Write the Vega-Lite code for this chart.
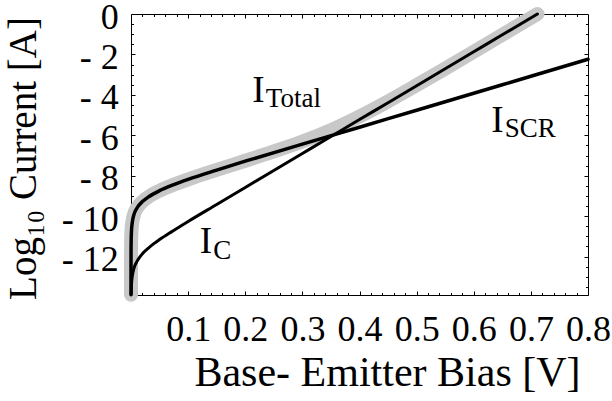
{
  "$schema": "https://vega.github.io/schema/vega-lite/v6.json",
  "width": 457,
  "height": 281,
  "autosize": {"type": "none"},
  "padding": {"left": 131, "top": 14, "right": 24, "bottom": 106},
  "background": "white",
  "config": {
    "view": {"stroke": "black", "strokeWidth": 1},
    "axis": {"domain": false, "grid": false, "tickColor": "black", "tickWidth": 1, "labelFont": "Liberation Serif", "titleFont": "Liberation Serif", "labelColor": "black", "titleColor": "black", "titleFontWeight": "normal"},
    "text": {"font": "Liberation Serif", "color": "black"}
  },
  "datasets": {
    "curves": [
      {"series": "Total", "V": 0.0000006, "logI": -13.89},
      {"series": "Total", "V": 0.000003, "logI": -13.19},
      {"series": "Total", "V": 0.00002, "logI": -12.36},
      {"series": "Total", "V": 0.0001, "logI": -11.66},
      {"series": "Total", "V": 0.0003, "logI": -11.19},
      {"series": "Total", "V": 0.001, "logI": -10.66},
      {"series": "Total", "V": 0.002, "logI": -10.36},
      {"series": "Total", "V": 0.005, "logI": -9.94},
      {"series": "Total", "V": 0.01, "logI": -9.62},
      {"series": "Total", "V": 0.02, "logI": -9.28},
      {"series": "Total", "V": 0.03, "logI": -9.06},
      {"series": "Total", "V": 0.05, "logI": -8.74},
      {"series": "Total", "V": 0.075, "logI": -8.44},
      {"series": "Total", "V": 0.1, "logI": -8.18},
      {"series": "Total", "V": 0.15, "logI": -7.71},
      {"series": "Total", "V": 0.2, "logI": -7.26},
      {"series": "Total", "V": 0.25, "logI": -6.8},
      {"series": "Total", "V": 0.3, "logI": -6.31},
      {"series": "Total", "V": 0.35, "logI": -5.74},
      {"series": "Total", "V": 0.4, "logI": -5.07},
      {"series": "Total", "V": 0.45, "logI": -4.32},
      {"series": "Total", "V": 0.5, "logI": -3.52},
      {"series": "Total", "V": 0.55, "logI": -2.7},
      {"series": "Total", "V": 0.6, "logI": -1.87},
      {"series": "Total", "V": 0.65, "logI": -1.03},
      {"series": "Total", "V": 0.7115, "logI": 0},
      {"series": "IC", "V": 0.0003, "logI": -13.86},
      {"series": "IC", "V": 0.0005, "logI": -13.64},
      {"series": "IC", "V": 0.001, "logI": -13.33},
      {"series": "IC", "V": 0.002, "logI": -13.03},
      {"series": "IC", "V": 0.003, "logI": -12.84},
      {"series": "IC", "V": 0.005, "logI": -12.6},
      {"series": "IC", "V": 0.0075, "logI": -12.4},
      {"series": "IC", "V": 0.01, "logI": -12.26},
      {"series": "IC", "V": 0.015, "logI": -12.04},
      {"series": "IC", "V": 0.02, "logI": -11.86},
      {"series": "IC", "V": 0.03, "logI": -11.59},
      {"series": "IC", "V": 0.04, "logI": -11.36},
      {"series": "IC", "V": 0.05, "logI": -11.16},
      {"series": "IC", "V": 0.07, "logI": -10.79},
      {"series": "IC", "V": 0.1, "logI": -10.26},
      {"series": "IC", "V": 0.15, "logI": -9.42},
      {"series": "IC", "V": 0.2, "logI": -8.58},
      {"series": "IC", "V": 0.25, "logI": -7.74},
      {"series": "IC", "V": 0.3, "logI": -6.9},
      {"series": "IC", "V": 0.35, "logI": -6.06},
      {"series": "IC", "V": 0.4, "logI": -5.22},
      {"series": "IC", "V": 0.45, "logI": -4.39},
      {"series": "IC", "V": 0.5, "logI": -3.55},
      {"series": "IC", "V": 0.55, "logI": -2.71},
      {"series": "IC", "V": 0.6, "logI": -1.87},
      {"series": "IC", "V": 0.65, "logI": -1.03},
      {"series": "IC", "V": 0.7115, "logI": 0},
      {"series": "ISCR", "V": 0.0000006, "logI": -13.89},
      {"series": "ISCR", "V": 0.000003, "logI": -13.19},
      {"series": "ISCR", "V": 0.00002, "logI": -12.36},
      {"series": "ISCR", "V": 0.0001, "logI": -11.66},
      {"series": "ISCR", "V": 0.0003, "logI": -11.19},
      {"series": "ISCR", "V": 0.001, "logI": -10.66},
      {"series": "ISCR", "V": 0.002, "logI": -10.36},
      {"series": "ISCR", "V": 0.005, "logI": -9.94},
      {"series": "ISCR", "V": 0.01, "logI": -9.62},
      {"series": "ISCR", "V": 0.02, "logI": -9.28},
      {"series": "ISCR", "V": 0.03, "logI": -9.06},
      {"series": "ISCR", "V": 0.05, "logI": -8.74},
      {"series": "ISCR", "V": 0.075, "logI": -8.44},
      {"series": "ISCR", "V": 0.1, "logI": -8.18},
      {"series": "ISCR", "V": 0.15, "logI": -7.72},
      {"series": "ISCR", "V": 0.2, "logI": -7.28},
      {"series": "ISCR", "V": 0.3, "logI": -6.44},
      {"series": "ISCR", "V": 0.4, "logI": -5.6},
      {"series": "ISCR", "V": 0.5, "logI": -4.76},
      {"series": "ISCR", "V": 0.6, "logI": -3.92},
      {"series": "ISCR", "V": 0.7, "logI": -3.08},
      {"series": "ISCR", "V": 0.8, "logI": -2.24}
    ],
    "labels": [
      {"sub": "Total", "V": 0.2124, "logI": -4.34},
      {"sub": "SCR", "V": 0.6307, "logI": -5.82},
      {"sub": "C", "V": 0.1204, "logI": -11.84}
    ]
  },
  "layer": [
    {
      "data": {"name": "curves"},
      "transform": [{"filter": "datum.series == 'Total'"}],
      "mark": {"type": "line", "color": "#c8c8c8", "strokeWidth": 14, "strokeCap": "round", "strokeJoin": "round", "interpolate": "monotone", "clip": false},
      "encoding": {
        "x": {"field": "V", "type": "quantitative", "scale": {"domain": [0, 0.8], "nice": false, "zero": false},
          "axis": {"orient": "bottom", "values": [0.1, 0.2, 0.3, 0.4, 0.5, 0.6, 0.7, 0.8], "tickSize": -4, "labelFontSize": 36, "labelPadding": 49, "labelBaseline": "alphabetic", "labelAlign": "center", "labelOverlap": false, "labelFlush": false, "format": ".1f",
            "title": "Base- Emitter Bias [V]", "titleFontSize": 42, "titleX": 256, "titleY": 90, "titleAlign": "center", "titleBaseline": "alphabetic"}},
        "y": {"field": "logI", "type": "quantitative", "scale": {"domain": [-13.9, 0], "nice": false, "zero": false},
          "axis": {"orient": "left", "values": [0, -2, -4, -6, -8, -10, -12], "tickSize": -4, "labelFontSize": 36, "labelPadding": 16.7, "labelAlign": "right", "labelBaseline": "alphabetic", "labelOffset": 14, "labelOverlap": false, "labelFlush": false,
            "labelExpr": "datum.value == 0 ? '0' : '- ' + format(-datum.value, 'd')",
            "title": "Log₁₀ Current  [A]", "titleFontSize": 39, "titleAngle": 270, "titleX": -96, "titleY": 144, "titleAlign": "center", "titleBaseline": "alphabetic"}}
      }
    },
    {
      "data": {"name": "curves"},
      "transform": [{"filter": "datum.series == 'IC'"}],
      "mark": {"type": "line", "color": "black", "strokeWidth": 3, "strokeCap": "round", "strokeJoin": "round", "interpolate": "monotone", "clip": false},
      "encoding": {
        "x": {"field": "V", "type": "quantitative", "scale": {"domain": [0, 0.8], "nice": false, "zero": false},
          "axis": {"orient": "bottom", "values": [0.02, 0.04, 0.06, 0.08, 0.12, 0.14, 0.16, 0.18, 0.22, 0.24, 0.26, 0.28, 0.32, 0.34, 0.36, 0.38, 0.42, 0.44, 0.46, 0.48, 0.52, 0.54, 0.56, 0.58, 0.62, 0.64, 0.66, 0.68, 0.72, 0.74, 0.76, 0.78], "tickSize": -2.5, "labels": false, "title": null}},
        "y": {"field": "logI", "type": "quantitative", "scale": {"domain": [-13.9, 0], "nice": false, "zero": false},
          "axis": {"orient": "left", "values": [-0.5, -1, -1.5, -2.5, -3, -3.5, -4.5, -5, -5.5, -6.5, -7, -7.5, -8.5, -9, -9.5, -10.5, -11, -11.5, -12.5, -13, -13.5], "tickSize": -2.5, "labels": false, "title": null}}
      }
    },
    {
      "data": {"name": "curves"},
      "transform": [{"filter": "datum.series == 'ISCR'"}],
      "mark": {"type": "line", "color": "black", "strokeWidth": 3.5, "strokeCap": "round", "strokeJoin": "round", "interpolate": "monotone", "clip": false},
      "encoding": {
        "x": {"field": "V", "type": "quantitative", "scale": {"domain": [0, 0.8], "nice": false, "zero": false},
          "axis": {"orient": "top", "values": [0.1, 0.2, 0.3, 0.4, 0.5, 0.6, 0.7], "tickSize": -4, "labels": false, "title": null}},
        "y": {"field": "logI", "type": "quantitative", "scale": {"domain": [-13.9, 0], "nice": false, "zero": false},
          "axis": {"orient": "right", "values": [-2, -4, -6, -8, -10, -12], "tickSize": -4, "labels": false, "title": null}}
      }
    },
    {
      "data": {"name": "labels"},
      "mark": {"type": "text", "text": "I", "fontSize": 37, "align": "left", "baseline": "alphabetic", "font": "Liberation Serif", "color": "black"},
      "encoding": {
        "x": {"field": "V", "type": "quantitative", "scale": {"domain": [0, 0.8], "nice": false, "zero": false},
          "axis": {"orient": "top", "values": [0.02, 0.04, 0.06, 0.08, 0.12, 0.14, 0.16, 0.18, 0.22, 0.24, 0.26, 0.28, 0.32, 0.34, 0.36, 0.38, 0.42, 0.44, 0.46, 0.48, 0.52, 0.54, 0.56, 0.58, 0.62, 0.64, 0.66, 0.68, 0.72, 0.74, 0.76, 0.78], "tickSize": -2.5, "labels": false, "title": null}},
        "y": {"field": "logI", "type": "quantitative", "scale": {"domain": [-13.9, 0], "nice": false, "zero": false},
          "axis": {"orient": "right", "values": [-0.5, -1, -1.5, -2.5, -3, -3.5, -4.5, -5, -5.5, -6.5, -7, -7.5, -8.5, -9, -9.5, -10.5, -11, -11.5, -12.5, -13, -13.5], "tickSize": -2.5, "labels": false, "title": null}}
      }
    },
    {
      "data": {"name": "labels"},
      "mark": {"type": "text", "fontSize": 27, "align": "left", "baseline": "alphabetic", "dx": 13.5, "dy": 5.5, "font": "Liberation Serif", "color": "black"},
      "encoding": {
        "x": {"field": "V", "type": "quantitative", "scale": {"domain": [0, 0.8], "nice": false, "zero": false}, "axis": null},
        "y": {"field": "logI", "type": "quantitative", "scale": {"domain": [-13.9, 0], "nice": false, "zero": false}, "axis": null},
        "text": {"field": "sub", "type": "nominal"}
      }
    }
  ],
  "resolve": {"axis": {"x": "independent", "y": "independent"}}
}
